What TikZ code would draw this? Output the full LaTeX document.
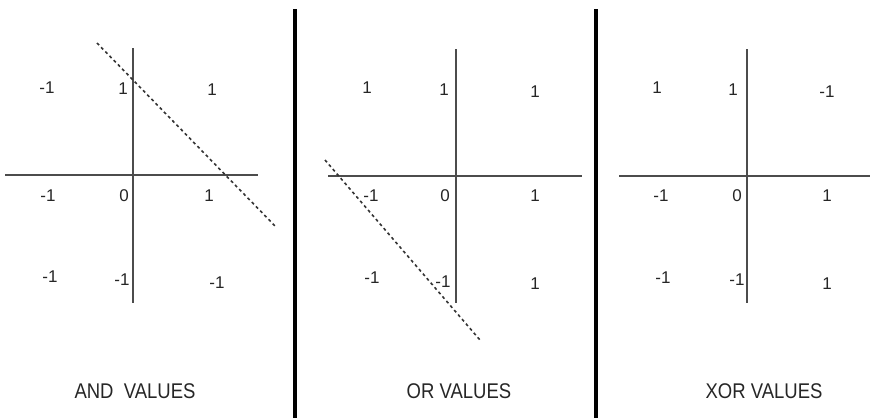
\documentclass[tikz,border=0pt]{standalone}
\usepackage{fontspec}
\setmainfont{Liberation Sans}
\begin{document}
\begin{tikzpicture}[x=1pt,y=-1pt,
  axis/.style={draw=black!70,line width=1.6pt},
  sep/.style={draw=black,line width=4pt},
  cut/.style={draw=black!80,line width=1.6pt,dash pattern=on 3pt off 3pt},
  val/.style={inner sep=0pt,font=\fontsize{17}{17}\selectfont,text=black!85},
  ttl/.style={inner sep=0pt,font=\fontsize{18.5}{18.5}\selectfont,text=black!85,yscale=1.15}]
\useasboundingbox (0,0) rectangle (871,418);
% separators
\coordinate (s1t) at (295,9); \coordinate (s1b) at (295,418);
\coordinate (s2t) at (596,9); \coordinate (s2b) at (596,418);
\draw[sep] (s1t) -- (s1b);
\draw[sep] (s2t) -- (s2b);
% AND panel
\coordinate (a1t) at (133,48); \coordinate (a1b) at (133,303);
\coordinate (a1l) at (5,175); \coordinate (a1r) at (258,175);
\draw[axis] (a1t) -- (a1b);
\draw[axis] (a1l) -- (a1r);
\coordinate (d1a) at (97,43); \coordinate (d1b) at (276,227);
\draw[cut] (d1a) -- (d1b);
\node[val] (a11) at (47,88) {-1};
\node[val] (a12) at (123,89) {1};
\node[val] (a13) at (212,90) {1};
\node[val] (a21) at (48,196) {-1};
\node[val] (a22) at (124,196) {0};
\node[val] (a23) at (209,196) {1};
\node[val] (a31) at (50,277) {-1};
\node[val] (a32) at (122,280) {-1};
\node[val] (a33) at (217,283) {-1};
\node[ttl] (at) at (135,391) {AND\ \ VALUES};
% OR panel
\coordinate (o1t) at (456,49); \coordinate (o1b) at (456,303);
\coordinate (o1l) at (328,176); \coordinate (o1r) at (582,176);
\draw[axis] (o1t) -- (o1b);
\draw[axis] (o1l) -- (o1r);
\coordinate (d2a) at (325,160); \coordinate (d2b) at (480,340);
\draw[cut] (d2a) -- (d2b);
\node[val] (o11) at (367,88) {1};
\node[val] (o12) at (444,90) {1};
\node[val] (o13) at (535,92) {1};
\node[val] (o21) at (371,196) {-1};
\node[val] (o22) at (445,196) {0};
\node[val] (o23) at (535,196) {1};
\node[val] (o31) at (372,278) {-1};
\node[val] (o32) at (443,282) {-1};
\node[val] (o33) at (535,284) {1};
\node[ttl] (ot) at (459,391) {OR VALUES};
% XOR panel
\coordinate (x1t) at (747,49); \coordinate (x1b) at (747,303);
\coordinate (x1l) at (619,176); \coordinate (x1r) at (870,176);
\draw[axis] (x1t) -- (x1b);
\draw[axis] (x1l) -- (x1r);
\node[val] (x11) at (657,88) {1};
\node[val] (x12) at (733,90) {1};
\node[val] (x13) at (827,92) {-1};
\node[val] (x21) at (661,196) {-1};
\node[val] (x22) at (737,196) {0};
\node[val] (x23) at (827,196) {1};
\node[val] (x31) at (663,278) {-1};
\node[val] (x32) at (737,280) {-1};
\node[val] (x33) at (827,284) {1};
\node[ttl] (xt) at (764,391) {XOR VALUES};
\end{tikzpicture}
\end{document}
